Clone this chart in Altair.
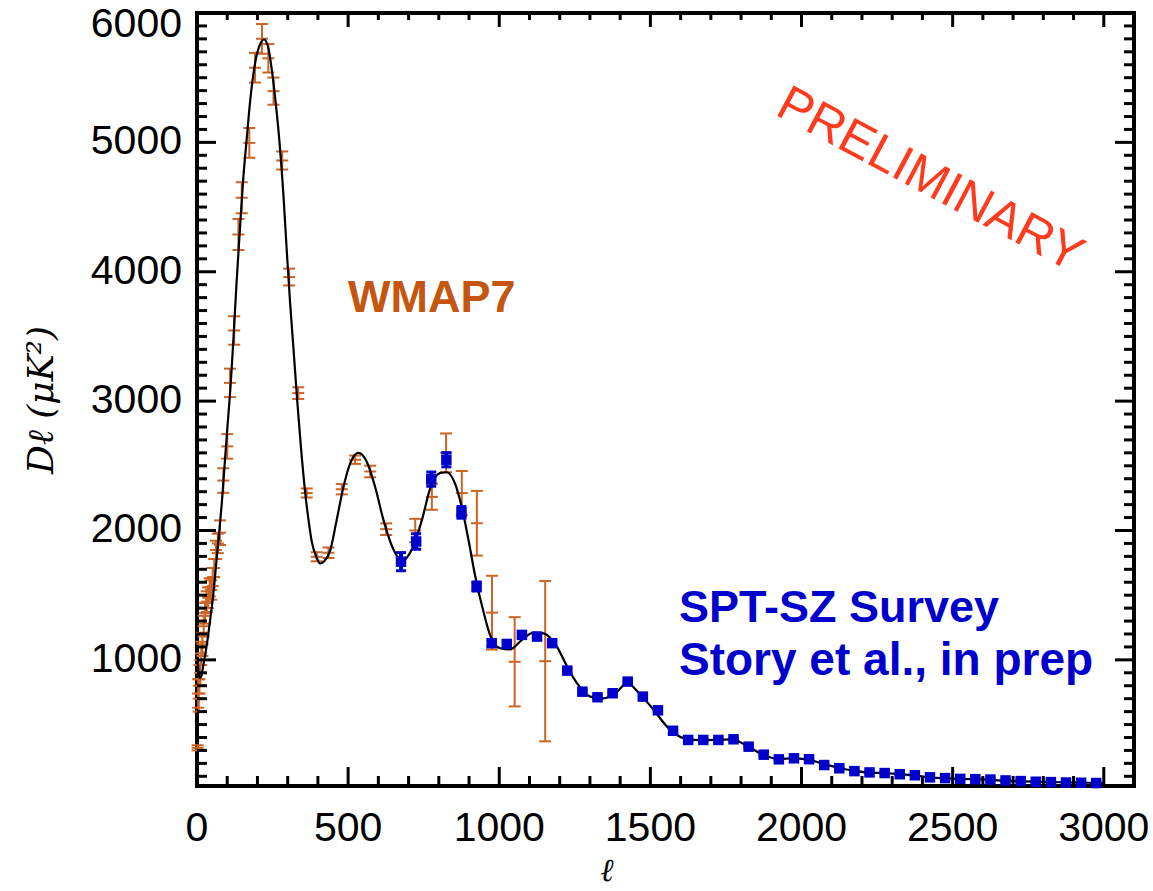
import altair as alt
import pandas as pd

# Best-fit model spectrum (multipole, D_l in uK^2)
model_ell = [2, 5, 10, 15, 21, 32, 43, 54, 65, 74, 82, 93, 100, 112, 120, 131, 142, 153, 165, 175,
             192, 209, 222, 236, 247, 262, 273, 286, 297, 308, 320, 332, 344, 358, 369, 380, 396,
             407, 420, 440, 462, 485, 507, 534, 562, 589, 617, 645, 678, 711, 744, 772, 805, 827,
             854, 876, 898, 921, 948, 970, 1003, 1036, 1075, 1114, 1147, 1191, 1224, 1257, 1301,
             1345, 1390, 1423, 1467, 1511, 1555, 1610, 1660, 1720, 1770, 1820, 1870, 1920, 1980,
             2030, 2080, 2130, 2180, 2230, 2280, 2330, 2380, 2430, 2480, 2530, 2600, 2650, 2700,
             2800, 2900, 3000]
model_dl = [1020, 900, 860, 880, 960, 1110, 1300, 1510, 1780, 2000, 2210, 2560, 2780, 3150, 3460,
            3920, 4330, 4720, 5040, 5300, 5610, 5760, 5795, 5730, 5570, 5270, 5000, 4590, 4160,
            3760, 3380, 2990, 2640, 2290, 2080, 1910, 1790, 1745, 1760, 1840, 2080, 2340, 2520,
            2600, 2530, 2340, 2080, 1880, 1765, 1855, 2080, 2330, 2445, 2450, 2360, 2180, 1930,
            1640, 1370, 1190, 1090, 1080, 1155, 1210, 1205, 1100, 950, 820, 716, 703, 755, 820,
            730, 613, 484, 395, 380, 382, 385, 335, 270, 235, 238, 225, 190, 162, 140, 128, 124,
            115, 105, 90, 84, 79, 76, 68, 63, 57, 52, 48]

# WMAP7 band powers
wmap_ell = [2, 4, 6, 8, 11, 14, 18, 22, 27, 32, 37, 42, 47, 52, 57, 63, 69, 76, 87, 100,
            109, 123, 137, 148, 173, 192, 215, 236, 253, 282, 305, 335, 363, 396, 435, 479,
            523, 573, 626, 722, 777, 824, 876, 926, 976, 1051, 1152]
wmap_dl = [320, 740, 700, 850, 900, 1050, 1120, 1260, 1360, 1450, 1480, 1560, 1540, 1640, 1710,
           1850, 1900, 1983, 2386, 2650, 3141, 3546, 4288, 4572, 4996, 5577, 5800, 5650, 5396,
           4860, 3959, 3062, 2290, 1797, 1828, 2319, 2547, 2456, 2010, 2000, 2260, 2600, 2290,
           2056, 1365, 985, 990]
wmap_err = [20, 110, 100, 110, 100, 90, 90, 80, 80, 80, 80, 70, 75, 70, 70, 70, 75, 95, 95, 95,
            110, 110, 120, 120, 115, 115, 115, 110, 105, 70, 65, 45, 35, 35, 40, 40, 32, 45, 45,
            90, 100, 150, 170, 250, 285, 345, 620]

# SPT-SZ band powers
spt_ell = [675, 725, 775, 825, 875, 925, 975, 1025, 1075, 1125, 1175, 1225, 1275, 1325, 1375,
           1425, 1475, 1525, 1575, 1625, 1675, 1725, 1775, 1825, 1875, 1925, 1975, 2025, 2075,
           2125, 2175, 2225, 2275, 2325, 2375, 2425, 2475, 2525, 2575, 2625, 2675, 2725, 2775,
           2825, 2875, 2925, 2975]
spt_dl = [1759, 1915, 2397, 2547, 2140, 1567, 1129, 1123, 1193, 1180, 1129, 917, 754, 711, 742,
          832, 716, 610, 452, 381, 381, 381, 386, 329, 267, 231, 239, 232, 187, 162, 140, 130,
          125, 116, 108, 92, 86, 80, 78, 75, 68, 63, 58, 55, 52, 50, 48]
spt_err = [70, 60, 55, 55, 45, 35, 25, 22, 20, 20, 18, 16, 14, 12, 12, 12, 11, 10, 9, 8, 8, 8, 7,
           7, 6, 6, 6, 5, 5, 5, 5, 4, 4, 4, 4, 4, 4, 4, 4, 4, 4, 4, 4, 4, 4, 4, 4]

x_major = [0, 500, 1000, 1500, 2000, 2500, 3000]
y_major = [1000, 2000, 3000, 4000, 5000]
y_top = [6000]
x_minor = [v for v in range(100, 3100, 100) if v % 500]
y_minor = [v for v in range(100, 6000, 100) if v % 1000]

W, H = 937, 773
ORANGE = "#CC6424"
BLUE = "#0000CC"
LABEL_FONT = "Liberation Sans"

xs = alt.Scale(domain=[0, 3100], nice=False, zero=False)
ys = alt.Scale(domain=[25, 6000], nice=False, zero=False)


def X(field):
    return alt.X(field + ":Q", scale=xs, axis=None)


def Y(field):
    return alt.Y(field + ":Q", scale=ys, axis=None)


model = pd.DataFrame({"ell": model_ell, "dl": model_dl})
wmap = pd.DataFrame({"ell": wmap_ell, "dl": wmap_dl, "err": wmap_err})
wmap["lo"] = wmap["dl"] - wmap["err"]
wmap["hi"] = wmap["dl"] + wmap["err"]
wmap_caps = pd.concat([
    pd.DataFrame({"ell": wmap["ell"], "dl": wmap["lo"]}),
    pd.DataFrame({"ell": wmap["ell"], "dl": wmap["dl"]}),
    pd.DataFrame({"ell": wmap["ell"], "dl": wmap["hi"]}),
], ignore_index=True)
spt = pd.DataFrame({"ell": spt_ell, "dl": spt_dl, "err": spt_err})
spt["lo"] = spt["dl"] - spt["err"]
spt["hi"] = spt["dl"] + spt["err"]
spt_caps = pd.concat([
    pd.DataFrame({"ell": spt["ell"], "dl": spt["lo"]}),
    pd.DataFrame({"ell": spt["ell"], "dl": spt["hi"]}),
], ignore_index=True)

curve = alt.Chart(model).mark_line(color="black", strokeWidth=2.2, interpolate="monotone").encode(
    x=X("ell"), y=Y("dl"),
)
wmap_bars = alt.Chart(wmap).mark_rule(color=ORANGE, strokeWidth=2).encode(
    x=X("ell"), y=Y("lo"), y2="hi:Q",
)
wmap_ticks = alt.Chart(wmap_caps).mark_tick(color=ORANGE, orient="horizontal", size=12,
                                            thickness=2, opacity=1).encode(
    x=X("ell"), y=Y("dl"),
)
spt_bars = alt.Chart(spt).mark_rule(color=BLUE, strokeWidth=4).encode(
    x=X("ell"), y=Y("lo"), y2="hi:Q",
)
spt_ticks = alt.Chart(spt_caps).mark_tick(color=BLUE, orient="horizontal", size=10,
                                          thickness=3, opacity=1).encode(
    x=X("ell"), y=Y("dl"),
)
spt_pts = alt.Chart(spt).mark_square(color=BLUE, size=110, opacity=1).encode(
    x=X("ell"), y=Y("dl"),
)


# inward frame ticks on all four edges
def xticks(vals, py0, py1):
    return alt.Chart(pd.DataFrame({"v": vals})).mark_rule(color="black", strokeWidth=3).encode(
        x=X("v"), y=alt.value(py0), y2=alt.value(py1))


def yticks(vals, px0, px1):
    return alt.Chart(pd.DataFrame({"v": vals})).mark_rule(color="black", strokeWidth=3).encode(
        y=Y("v"), x=alt.value(px0), x2=alt.value(px1))


frame_ticks = [
    xticks(x_minor, H, H - 10), xticks(x_major, H, H - 19),
    xticks(x_minor, 0, 7), xticks(x_major, 0, 14),
    yticks(y_minor, 0, 10), yticks(y_major + y_top, 0, 19),
    yticks(y_minor, W, W - 10), yticks(y_major + y_top, W, W - 19),
]

# tick labels
x_labels = alt.Chart(pd.DataFrame({"v": x_major, "lab": [str(v) for v in x_major]})).mark_text(
    font=LABEL_FONT, fontSize=41, align="center", baseline="top", color="black").encode(
    x=X("v"), y=alt.value(H + 23), text="lab:N")
y_labels = alt.Chart(pd.DataFrame({"v": y_major, "lab": [str(v) for v in y_major]})).mark_text(
    font=LABEL_FONT, fontSize=41, align="right", baseline="middle", color="black").encode(
    y=Y("v"), x=alt.value(-15), text="lab:N")
y_top_label = alt.Chart(pd.DataFrame({"v": y_top, "lab": [str(v) for v in y_top]})).mark_text(
    font=LABEL_FONT, fontSize=41, align="right", baseline="middle", color="black", dy=12).encode(
    y=Y("v"), x=alt.value(-15), text="lab:N")


def label(text, px, py, **kw):
    return alt.Chart(pd.DataFrame({"t": [text]})).mark_text(**kw).encode(
        text="t:N", x=alt.value(px), y=alt.value(py))


x_title = label("ℓ", 410, H + 95, align="center", baseline="alphabetic",
                font="DejaVu Serif", fontStyle="italic", fontSize=32, color="black")
y_title = label("Dℓ (μK²)", -155, 387, align="center", baseline="middle", angle=270,
                font="DejaVu Serif", fontStyle="italic", fontSize=36, color="black")

wmap_label = label("WMAP7", 151, 299, align="left", baseline="alphabetic",
                   font=LABEL_FONT, fontWeight="bold", fontSize=45, color="#C4560F")
spt_label1 = label("SPT-SZ Survey", 482, 609, align="left", baseline="alphabetic",
                   font=LABEL_FONT, fontWeight="bold", fontSize=45, color=BLUE)
spt_label2 = label("Story et al., in prep", 482, 662, align="left", baseline="alphabetic",
                   font=LABEL_FONT, fontWeight="bold", fontSize=46, color=BLUE)
prelim = label("PRELIMINARY", 733, 167, align="center", baseline="middle", angle=28,
               font=LABEL_FONT, fontSize=50, color="#FF3B1F")

chart = alt.layer(
    wmap_bars, wmap_ticks, curve, spt_bars, spt_ticks, spt_pts, *frame_ticks,
    x_labels, y_labels, y_top_label, x_title, y_title,
    wmap_label, spt_label1, spt_label2, prelim,
).properties(
    width=W, height=H,
    autosize=alt.AutoSizeParams(type="none"),
    padding={"left": 197, "top": 13, "right": 19, "bottom": 105},
    background="white",
).configure_view(stroke="black", strokeWidth=4)

chart.save("out.html", embed_options={"renderer": "svg", "actions": False})
